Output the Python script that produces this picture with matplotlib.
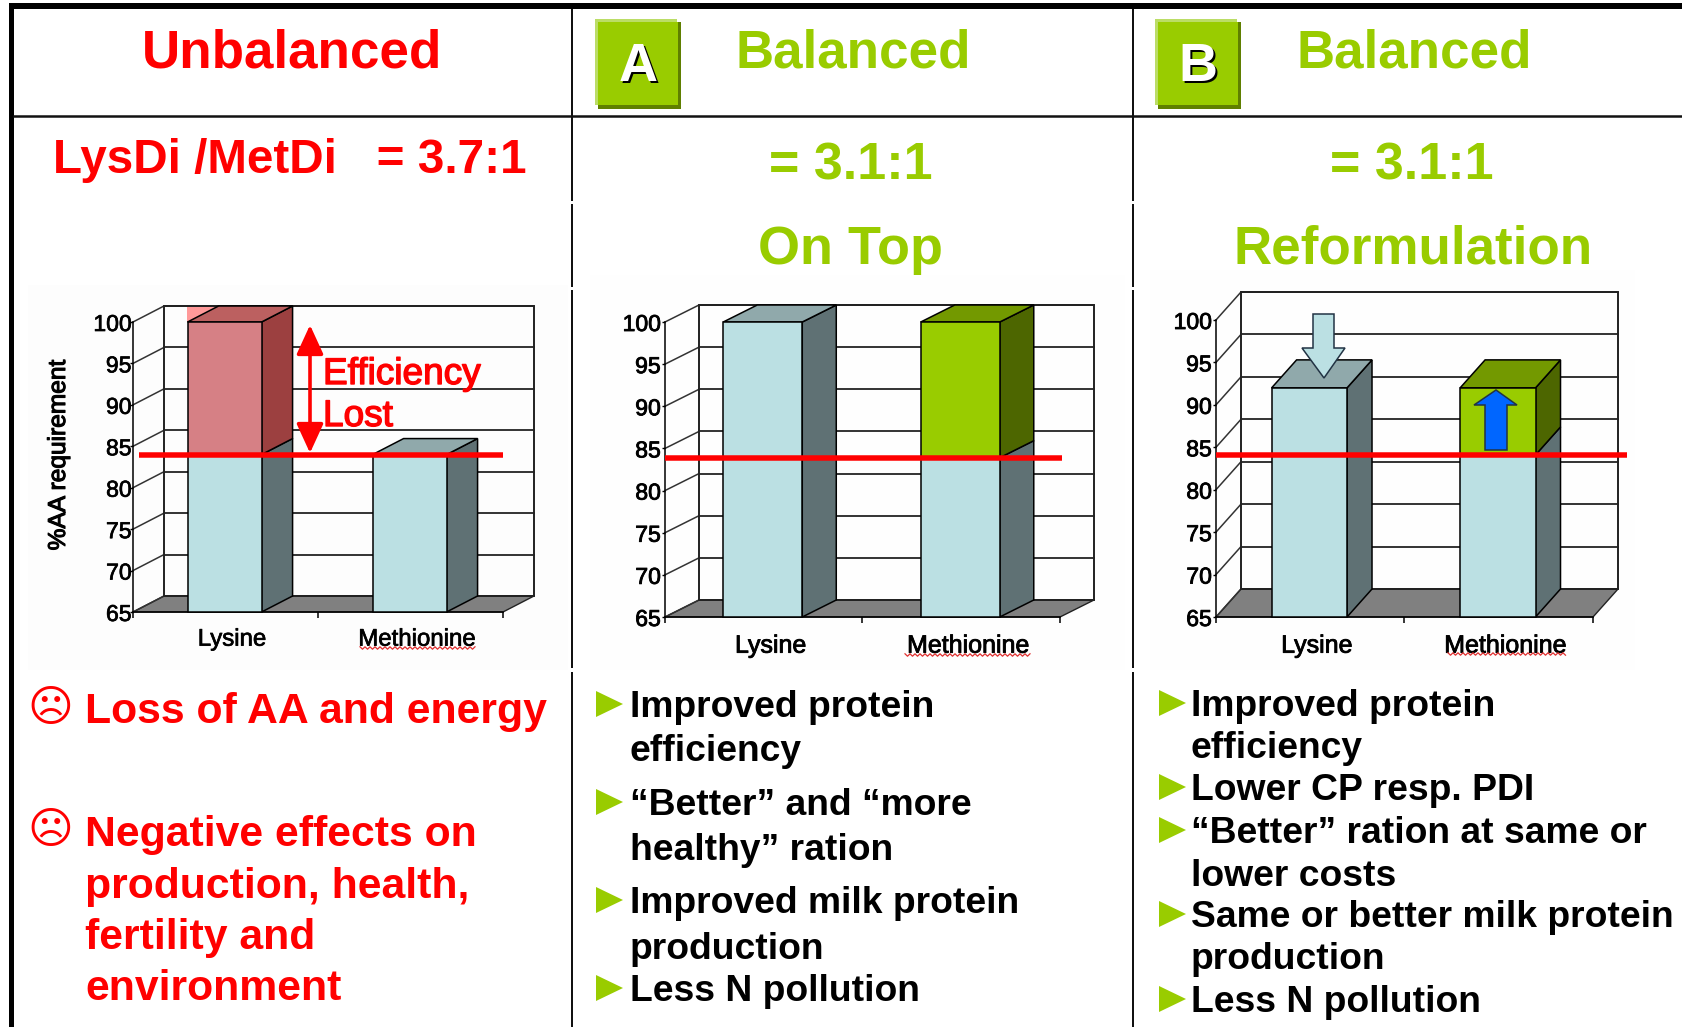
from matplotlib import pyplot as plt
from matplotlib.patches import Polygon, Rectangle, FancyArrowPatch
import matplotlib.patheffects as pe
import numpy as np

W, H = 1683, 1027
plt.rcParams['font.family'] = ['Liberation Sans', 'DejaVu Sans']

# data
categories = ['Lysine', 'Methionine']
y_ticks = [65, 70, 75, 80, 85, 90, 95, 100]
unbalanced_values = [100, 84]
on_top_values = [100, 100]
reformulation_values = [92, 92]
base_unbalanced = 84
base_on_top = 83.9
base_reformulation = 84.1

RED = '#FF0000'
GREEN = '#99CC00'
BLUE_FACES = ('#BBE0E3', '#90A9AB', '#5F7174')
GREEN_FACES = ('#99CC00', '#739900', '#4D6600')
PINK_FACES = ('#D68085', '#BC6060', '#9C4040')


def px(size):
    return size * 72 / 100


fig = plt.figure(figsize=(W / 100, H / 100), dpi=100, facecolor='white')

page = fig.add_axes([0, 0, 1, 1], zorder=0)
page.set_xlim(0, W)
page.set_ylim(H, 0)
page.axis('off')

top = fig.add_axes([0, 0, 1, 1], zorder=5)
top.set_xlim(0, W)
top.set_ylim(H, 0)
top.axis('off')
top.patch.set_alpha(0)


def label(ax, x, y, s, size, color='black', weight='bold', ha='left'):
    return ax.text(x, y, s, fontsize=px(size), color=color, weight=weight, ha=ha, va='baseline')


def chart(x0, x1, y65, y100, dx_px, dy_px, values, base, upper_faces, line_end, line_start=0.0, stroke=0.6,
          cat_size=25, cat_pad=12, tick_pad=1):
    ax = fig.add_axes([x0 / W, 1 - y65 / H, (x1 - x0) / W, (y65 - y100) / H], zorder=2)
    ax.set_xlim(0, 2)
    ax.set_ylim(65, 100)
    ax.patch.set_alpha(0)
    dx = dx_px / (x1 - x0) * 2
    dy = dy_px / (y65 - y100) * 35

    # floor, back wall, left wall
    ax.add_patch(Polygon([(0, 65), (2, 65), (2 + dx, 65 + dy), (dx, 65 + dy)], fc='#808080', ec='#222222',
                         lw=1, clip_on=False, zorder=1))
    ax.plot([dx, 2 + dx, 2 + dx, dx, dx], [65 + dy, 65 + dy, 100 + dy, 100 + dy, 65 + dy], color='#222222',
            lw=1.4, clip_on=False, zorder=2)
    for t in y_ticks:
        ax.plot([dx, 2 + dx], [t + dy, t + dy], color='#333333', lw=1.4, clip_on=False, zorder=1.5)
        ax.plot([0, dx], [t, t + dy], color='#333333', lw=1.1, clip_on=False, zorder=1.5)

    width = 0.40
    for i, v in enumerate(values):
        left = i + 0.295
        right = left + width
        if v > base and upper_faces[i] is not BLUE_FACES:
            bottoms = [65, base]
            heights = [base - 65, v - base]
            faces = [BLUE_FACES, upper_faces[i]]
        else:
            bottoms = [65]
            heights = [v - 65]
            faces = [BLUE_FACES]
        for b, h, f in zip(bottoms, heights, faces):
            ax.bar(left, h, width, bottom=b, align='edge', color=f[0], edgecolor='black', lw=1.1, zorder=4,
                   clip_on=False)
            ax.add_patch(Polygon([(right, b), (right + dx, b + dy), (right + dx, b + h + dy), (right, b + h)],
                                 fc=f[2], ec='black', lw=1.1, clip_on=False, zorder=3.5))
        ax.add_patch(Polygon([(left, v), (right, v), (right + dx, v + dy), (left + dx, v + dy)],
                             fc=faces[-1][1], ec='black', lw=1.1, clip_on=False, zorder=3.5))

    ax.plot([line_start, line_end], [base, base], color=RED, lw=px(5.5), solid_capstyle='butt', clip_on=False,
            zorder=6)

    for side in ['top', 'right']:
        ax.spines[side].set_visible(False)
    for side in ['left', 'bottom']:
        ax.spines[side].set_linewidth(1.1)
        ax.spines[side].set_zorder(3)
    ax.set_yticks(y_ticks)
    ax.set_xticks([0, 1, 2])
    ax.set_xticklabels([])
    ax.set_xticks([i + 0.535 for i in range(len(categories))], minor=True)
    ax.set_xticklabels(categories, minor=True, fontsize=px(cat_size))
    ax.tick_params(axis='x', which='minor', length=0, pad=cat_pad)
    ax.tick_params(axis='x', which='major', length=4, width=1.1)
    ax.tick_params(axis='y', length=2, width=1, pad=tick_pad, labelsize=px(23))
    effect = [pe.withStroke(linewidth=stroke, foreground='black')]
    for t in ax.get_xticklabels(minor=True) + ax.get_yticklabels():
        t.set_path_effects(effect)
    return ax


def squiggle(x0, x1, y):
    xs = np.arange(x0, x1, 2.5)
    ys = y + np.where(np.arange(len(xs)) % 2 == 0, -1.2, 1.2)
    top.plot(xs, ys, color='#E03030', lw=0.9)


def block_arrow(points, fc):
    top.add_patch(Polygon(points, fc=fc, ec='#223344', lw=1.1, zorder=6))


# faint picture backgrounds
page.add_patch(Rectangle((28, 285), 540, 385, fc='#FDFDFD', ec='none'))
page.add_patch(Rectangle((590, 275), 535, 395, fc='#FEFEFE', ec='none'))
page.add_patch(Rectangle((1150, 270), 485, 400, fc='#FEFEFE', ec='none'))

# table rules
page.add_patch(Rectangle((9, 3), W, 6, fc='black', ec='none'))
page.add_patch(Rectangle((9, 3), 5, H, fc='black', ec='none'))
page.plot([14, W], [116, 116], color='#111111', lw=px(2.5))
for x in [572, 1133]:
    for y0, y1 in [(9, 201), (204, 287), (290, 668), (672, H)]:
        page.plot([x, x], [y0, y1], color='#111111', lw=px(2), solid_capstyle='butt')

# headers
label(page, 292, 68, 'Unbalanced', 53, RED, ha='center')
label(page, 853, 68, 'Balanced', 53, GREEN, ha='center')
label(page, 1414, 68, 'Balanced', 53, GREEN, ha='center')
for x, letter in [(596, 'A'), (1156, 'B')]:
    page.add_patch(Rectangle((x + 2, 22), 83, 87, fc='#5F7F00', ec='none'))
    page.add_patch(Rectangle((x - 1, 19), 82, 86, fc='#BBDD66', ec='none'))
    page.add_patch(Rectangle((x + 2, 22), 80, 83, fc=GREEN, ec='none'))
    label(page, x + 44, 83, letter, 54, 'black', ha='center')
    label(page, x + 42, 81, letter, 54, 'white', ha='center')

label(page, 53, 173, 'LysDi /MetDi   = 3.7:1', 47.6, RED)
label(page, 851, 179, '= 3.1:1', 52, GREEN, ha='center')
label(page, 1412, 179, '= 3.1:1', 52, GREEN, ha='center')
label(page, 851, 264, 'On Top', 54, GREEN, ha='center')
label(page, 1413, 264, 'Reformulation', 53, GREEN, ha='center')

# charts
chart(133, 503, 612, 322, 31, 16, unbalanced_values, base_unbalanced, [PINK_FACES, BLUE_FACES], 2.0,
      line_start=0.03, stroke=0.5, cat_size=24, tick_pad=-1)
chart(665, 1060, 617, 322, 34, 17, on_top_values, base_on_top, [BLUE_FACES, GREEN_FACES], 2.01)
chart(1216, 1593, 617, 320, 25, 28, reformulation_values, base_reformulation, [BLUE_FACES, GREEN_FACES], 2.18)

# chart annotations
page.add_patch(Rectangle((187, 306), 33, 16, fc='#FF9999', ec='none', zorder=3))
t = top.text(59, 455, '%AA requirement', fontsize=px(24.5), rotation=90, ha='center', va='center', color='black')
t.set_path_effects([pe.withStroke(linewidth=0.8, foreground='black')])
for y, s in [(384, 'Efficiency'), (426, 'Lost')]:
    t = label(top, 323, y, s, 37, RED, weight='normal')
    t.set_path_effects([pe.withStroke(linewidth=1, foreground=RED)])
top.add_patch(FancyArrowPatch((310, 325), (310, 453), arrowstyle='<|-|>,head_length=1.2,head_width=0.55', lw=2.6,
                              color=RED, mutation_scale=15, shrinkA=0, shrinkB=0, zorder=6))

block_arrow([(1313, 314), (1334, 314), (1334, 348), (1345, 348), (1324, 378), (1302, 348), (1313, 348)], '#BBE0E3')
block_arrow([(1485, 450), (1507, 450), (1507, 405), (1517, 405), (1496, 390), (1474, 405), (1485, 405)], '#0066FF')

squiggle(360, 477, 648)
squiggle(905, 1031, 655)
squiggle(1448, 1566, 654)

# left column
for y in [708, 831]:
    page.text(50, y, '\u2639', fontsize=px(44), color=RED, ha='center', va='center', family='DejaVu Sans')
for y, s in [(723, 'Loss of AA and energy'), (846, 'Negative effects on'), (898, 'production, health,'),
             (949, 'fertility and'), (1000, 'environment')]:
    label(page, 85, y, s, 42.8, RED)


def bullets(text_x, tri_x, lines, marks, size):
    for y, s in lines:
        label(page, text_x, y, s, size)
    for y in marks:
        page.add_patch(Polygon([(tri_x, y - 13), (tri_x + 27, y), (tri_x, y + 13)], fc=GREEN, ec='none'))


bullets(630, 596,
        [(717, 'Improved protein'), (761, 'efficiency'), (815, '\u201cBetter\u201d and \u201cmore'),
         (860, 'healthy\u201d ration'), (913, 'Improved milk protein'), (959, 'production'),
         (1001, 'Less N pollution')],
        [704, 802, 900, 988], 37.2)
bullets(1191, 1159,
        [(716, 'Improved protein'), (758, 'efficiency'), (800, 'Lower CP resp. PDI'),
         (843, '\u201cBetter\u201d ration at same or'), (886, 'lower costs'),
         (927, 'Same or better milk protein'), (969, 'production'), (1012, 'Less N pollution')],
        [703, 787, 830, 914, 999], 37.3)

fig.savefig('out.png', dpi=100)
